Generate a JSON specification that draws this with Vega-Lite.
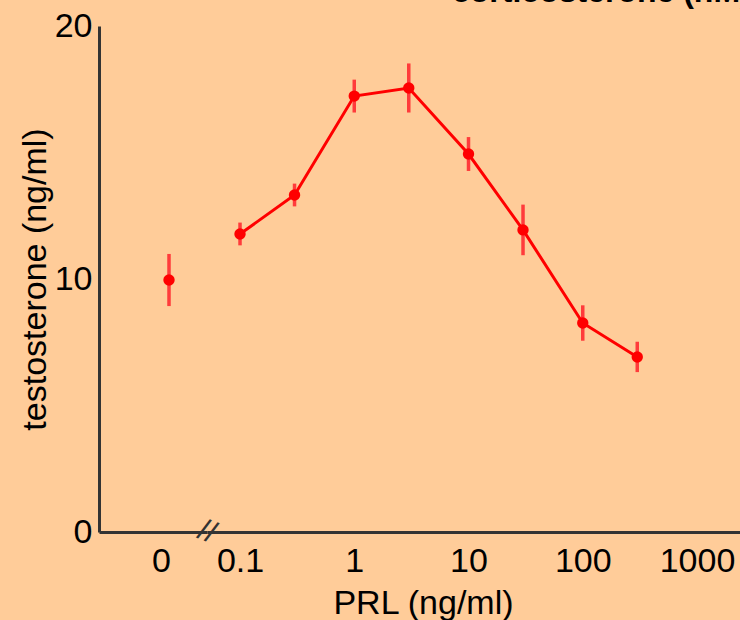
{
  "$schema": "https://vega.github.io/schema/vega-lite/v6.json",
  "background": "#FFCC99",
  "padding": {"left": 18, "top": -24, "right": 0, "bottom": 0},
  "spacing": 0,
  "bounds": "flush",
  "config": {
    "font": "Liberation Sans",
    "view": {"stroke": null},
    "axis": {
      "grid": false,
      "ticks": false,
      "domainColor": "#333333",
      "domainWidth": 3,
      "labelFont": "Liberation Sans",
      "labelFontSize": 34,
      "labelColor": "#000000",
      "titleFont": "Liberation Sans",
      "titleFontSize": 34,
      "titleFontWeight": "normal",
      "titleColor": "#000000"
    }
  },
  "datasets": {
    "zero": [{"PRL": 0, "T": 9.96, "sem": 1.03}],
    "curve": [
      {"PRL": 0.1, "T": 11.78, "sem": 0.45},
      {"PRL": 0.3, "T": 13.32, "sem": 0.45},
      {"PRL": 1, "T": 17.23, "sem": 0.65},
      {"PRL": 3, "T": 17.55, "sem": 0.97},
      {"PRL": 10, "T": 14.94, "sem": 0.67},
      {"PRL": 30, "T": 11.94, "sem": 1.0},
      {"PRL": 100, "T": 8.26, "sem": 0.7},
      {"PRL": 300, "T": 6.92, "sem": 0.6}
    ]
  },
  "hconcat": [
    {
      "width": 108,
      "height": 506,
      "data": {"name": "zero"},
      "encoding": {
        "x": {
          "field": "PRL",
          "type": "quantitative",
          "scale": {"domain": [-7, 3.8], "nice": false, "zero": false},
          "axis": {"values": [0], "title": null, "labelPadding": 12, "labelOffset": -8}
        },
        "y": {
          "field": "T",
          "type": "quantitative",
          "scale": {"domain": [0, 20], "nice": false},
          "axis": {"values": [0, 10, 20], "title": "testosterone (ng/ml)", "labelPadding": 7, "titlePadding": 2}
        }
      },
      "layer": [
        {
          "mark": {"type": "errorbar", "color": "#ff3b3b", "thickness": 3.5},
          "encoding": {"yError": {"field": "sem"}}
        },
        {
          "mark": {"type": "point", "filled": true, "color": "#ff0000", "size": 130, "opacity": 1}
        },
        {
          "mark": {"type": "text", "text": "//", "fontSize": 30, "color": "#333333", "angle": 22, "clip": false},
          "encoding": {
            "x": {"datum": 3.8, "type": "quantitative"},
            "y": {"datum": 0, "type": "quantitative"}
          }
        }
      ]
    },
    {
      "width": 535,
      "height": 506,
      "data": {"name": "curve"},
      "title": {
        "text": "corticosterone (nM)",
        "anchor": "start",
        "dx": 245,
        "offset": 17,
        "fontSize": 32,
        "fontWeight": "bold",
        "color": "#000000"
      },
      "encoding": {
        "x": {
          "field": "PRL",
          "type": "quantitative",
          "scale": {"type": "log", "domain": [0.0514, 2477], "nice": false},
          "axis": {"values": [0.1, 1, 10, 100, 1000], "format": "~g", "labelPadding": 12, "title": "PRL (ng/ml)", "titleX": 216, "titleY": 81, "titleBaseline": "alphabetic", "titleAlign": "center", "titleAnchor": null}
        },
        "y": {
          "field": "T",
          "type": "quantitative",
          "scale": {"domain": [0, 20], "nice": false},
          "axis": null
        }
      },
      "layer": [
        {"mark": {"type": "line", "color": "#ff0000", "strokeWidth": 3}},
        {
          "mark": {"type": "errorbar", "color": "#ff3b3b", "thickness": 3.5},
          "encoding": {"yError": {"field": "sem"}}
        },
        {"mark": {"type": "point", "filled": true, "color": "#ff0000", "size": 130, "opacity": 1}}
      ]
    }
  ]
}
